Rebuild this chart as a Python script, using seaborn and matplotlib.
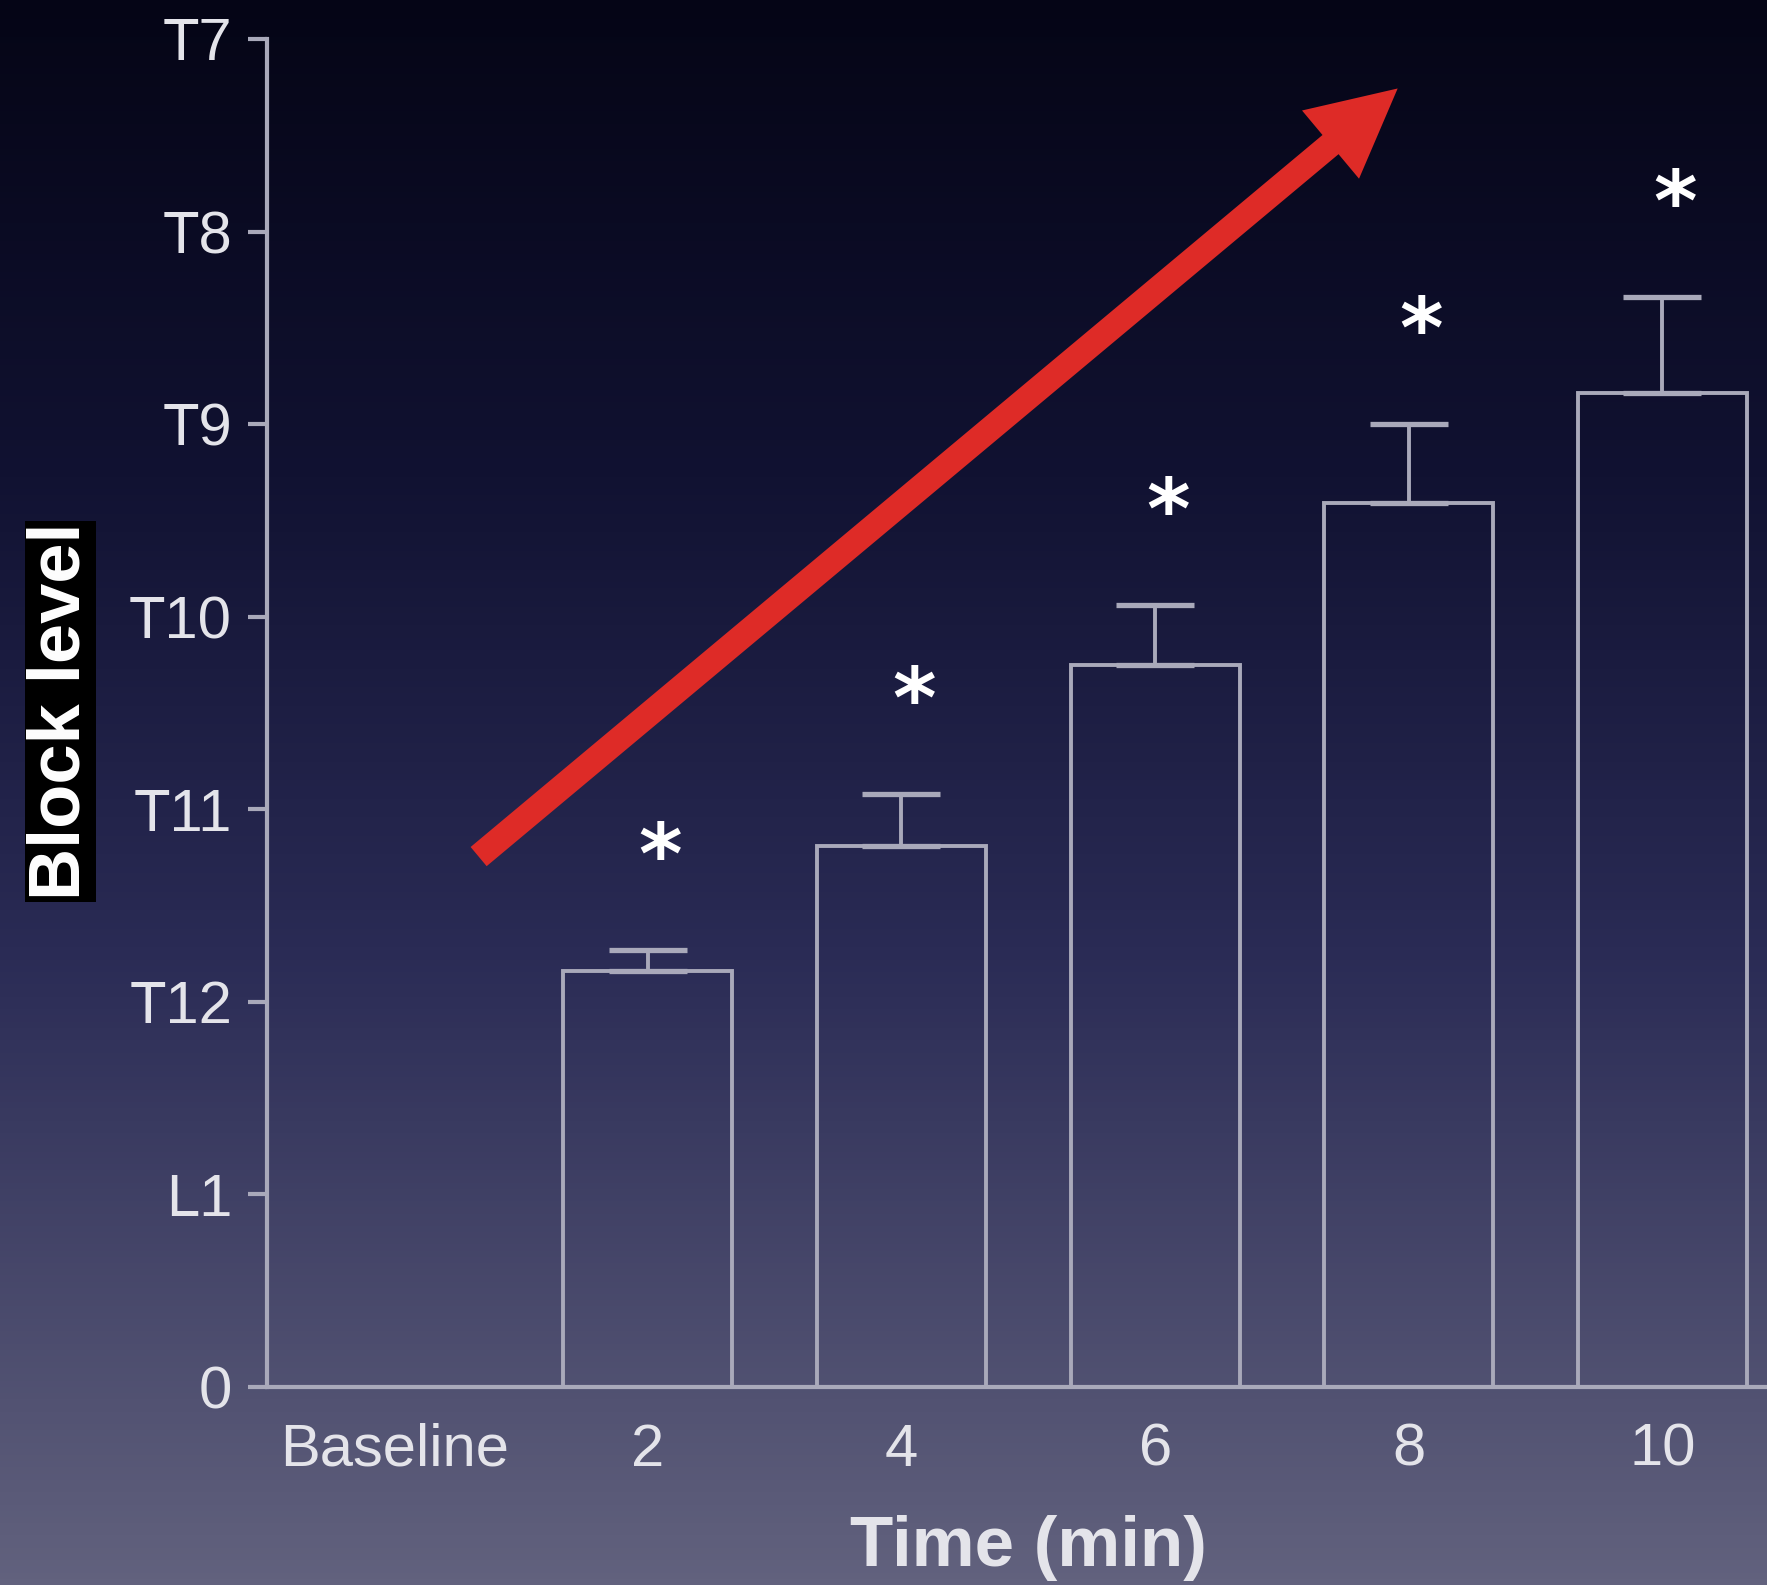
import numpy as np
import pandas as pd
import matplotlib
matplotlib.use("Agg")
import matplotlib.pyplot as plt
import seaborn as sns
from matplotlib.colors import LinearSegmentedColormap

# ---- data ----
categories = ["Baseline", "2", "4", "6", "8", "10"]
block_level = [0.0, 2.16, 2.81, 3.75, 4.59, 5.16]
sem = [0.0, 0.11, 0.27, 0.31, 0.41, 0.50]
significant = [False, True, True, True, True, True]
ytick_values = [0, 1, 2, 3, 4, 5, 6, 7]
ytick_labels = ["0", "L1", "T12", "T11", "T10", "T9", "T8", "T7"]

df = pd.DataFrame({"time": categories, "level": block_level})

sns.set_theme(style="ticks")
plt.rcParams["font.family"] = ["Liberation Sans", "DejaVu Sans"]

W, H, DPI = 1767, 1585, 100
fig = plt.figure(figsize=(W / DPI, H / DPI), dpi=DPI)

# background gradient
bg = fig.add_axes([0, 0, 1, 1], zorder=-10)
cmap = LinearSegmentedColormap.from_list(
    "bg", [(0.0, "#050516"), (0.3, "#111232"), (0.6, "#2a2b55"), (1.0, "#62627e")]
)
grad = np.linspace(0, 1, 512).reshape(-1, 1)
bg.imshow(grad, aspect="auto", cmap=cmap, extent=[0, 1, 1, 0])
bg.set_axis_off()

line_col = "#a9a9ba"
text_col = "#e4e4ea"

ax = fig.add_axes([0.151, 0.125, 0.849, 0.8504])
ax.set_facecolor("none")

sns.barplot(data=df, x="time", y="level", ax=ax, fill=False, color=line_col,
            linewidth=2.8, width=0.667, errorbar=None)

xs = np.arange(len(categories))
vals = np.array(block_level)
errs = np.array(sem)
mask = errs > 0
ax.errorbar(xs[mask], vals[mask], yerr=[np.zeros(mask.sum()), errs[mask]],
            fmt="none", ecolor=line_col, elinewidth=2.8, capsize=28, capthick=3.8)

for x, v, e, s in zip(xs, vals, errs, significant):
    if s:
        ax.text(x + 0.05, v + e + 0.47, "*", ha="center", va="center",
                fontsize=60, fontweight="bold", color="white", family="DejaVu Sans")

ax.set_xlim(-0.502, 5.412)
ax.set_ylim(0, 7)
ax.set_yticks(ytick_values)
ax.set_yticklabels(ytick_labels)
sns.despine(ax=ax)
for sp in ["left", "bottom"]:
    ax.spines[sp].set_color(line_col)
    ax.spines[sp].set_linewidth(3)
ax.tick_params(axis="y", colors=line_col, length=14, width=3, labelsize=43,
               labelcolor=text_col, pad=11)
ax.tick_params(axis="x", length=0, labelsize=43, labelcolor=text_col, pad=26)
ax.set_xlabel("Time (min)", fontsize=51, fontweight="bold", color=text_col)
ax.xaxis.set_label_coords(0.508, -0.095)
ax.set_ylabel("")

fig.text(0.034, 0.551, "Block level", rotation=90, ha="center", va="center",
         fontsize=52, fontweight="bold", color="white",
         bbox=dict(facecolor="black", edgecolor="none", pad=1))

# trend arrow
ax.annotate("", xy=(3.956, 6.743), xytext=(0.333, 2.754),
            arrowprops=dict(facecolor="#de2b27", edgecolor="none", width=18,
                            headwidth=64, headlength=63, shrink=0.0),
            annotation_clip=False)

fig.savefig("out.png", dpi=DPI)
